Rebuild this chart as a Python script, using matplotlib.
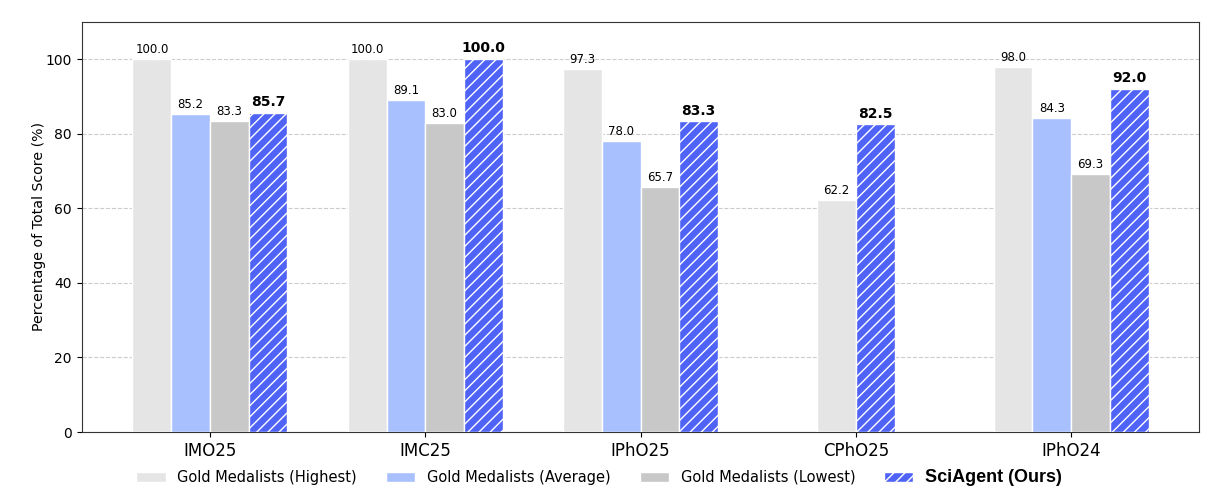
import numpy as np
import matplotlib
matplotlib.use('Agg')
import matplotlib.pyplot as plt

competitions = ['IMO25', 'IMC25', 'IPhO25', 'CPhO25', 'IPhO24']
highest = [100.0, 100.0, 97.3, 62.2, 98.0]
average = [85.2, 89.1, 78.0, np.nan, 84.3]
lowest = [83.3, 83.0, 65.7, np.nan, 69.3]
sciagent = [85.7, 100.0, 83.3, 82.5, 92.0]

series = [highest, average, lowest, sciagent]
labels = ['Gold Medalists (Highest)', 'Gold Medalists (Average)',
          'Gold Medalists (Lowest)', 'SciAgent (Ours)']
colors = ['#e5e5e5', '#a8c0fd', '#c8c8c8', '#4f63f6']

plt.rcParams['hatch.color'] = 'white'
plt.rcParams['hatch.linewidth'] = 1.0

fig = plt.figure(figsize=(12.19, 4.98), dpi=100)
ax = fig.add_axes([0.067, 0.1325, 0.917, 0.8235])

w = 0.18
x = np.arange(len(competitions))

# positions: bars in each group are centred on what is present
pos = [[np.nan] * len(competitions) for _ in series]
for g in range(len(competitions)):
    present = [s for s in range(len(series)) if not np.isnan(series[s][g])]
    n = len(present)
    for k, s in enumerate(present):
        pos[s][g] = x[g] + (k - (n - 1) / 2) * w

handles = []
for s in range(len(series)):
    xs = [p for p, v in zip(pos[s], series[s]) if not np.isnan(v)]
    vs = [v for v in series[s] if not np.isnan(v)]
    ours = s == 3
    b = ax.bar(xs, vs, w, color=colors[s], edgecolor='white', linewidth=1.0,
               hatch='///' if ours else None, label=labels[s], zorder=3)
    handles.append(b)
    for xi, v in zip(xs, vs):
        if ours:
            ax.text(xi, v + 1.0, f'{v:.1f}', ha='center', va='bottom',
                    fontsize=10, fontweight='bold', zorder=4)
        else:
            ax.text(xi, v + 0.8, f'{v:.1f}', ha='center', va='bottom',
                    fontsize=8.5, zorder=4)

ax.set_ylim(0, 110)
ax.set_xticks(x)
ax.set_xticklabels(competitions, fontsize=12)
ax.tick_params(axis='y', labelsize=10)
ax.set_ylabel('Percentage of Total Score (%)', fontsize=10.2, labelpad=0)
ax.yaxis.grid(True, linestyle='--', color='#cccccc', linewidth=0.8, zorder=0)
ax.set_axisbelow(True)
for sp in ax.spines.values():
    sp.set_color('#333333')

leg = ax.legend(handles, labels, loc='upper center', bbox_to_anchor=(0.463, -0.058),
                ncol=4, frameon=False, fontsize=10.5, columnspacing=2.0,
                handlelength=2.0)
t = leg.get_texts()[3]
t.set_fontweight('bold')
t.set_fontsize(13)
t.set_family(['Liberation Sans', 'DejaVu Sans'])

fig.savefig('out.png', dpi=100)
